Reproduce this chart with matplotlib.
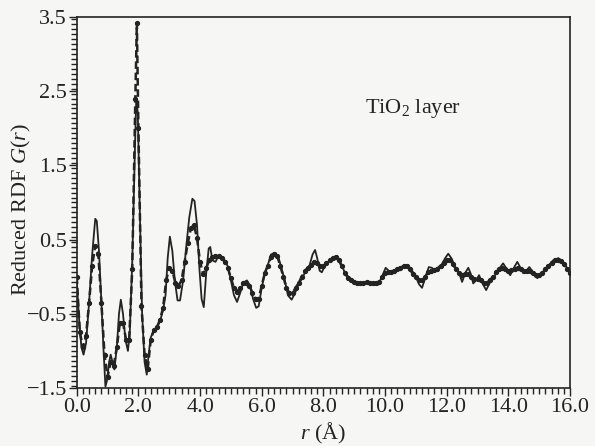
import matplotlib
matplotlib.use("Agg")
import matplotlib.pyplot as plt
from matplotlib.ticker import MultipleLocator, FuncFormatter

plt.rcParams["font.family"] = ["Liberation Serif", "DejaVu Serif"]
plt.rcParams["mathtext.fontset"] = "custom"
plt.rcParams["mathtext.rm"] = "Liberation Serif"
plt.rcParams["mathtext.it"] = "Liberation Serif:italic"

# calculated G(r) (thin solid line)
r_calc = [0.00, 0.08, 0.15, 0.22, 0.30, 0.40, 0.50, 0.60, 0.65, 0.72, 0.80, 0.87, 0.93, 0.98,
          1.05, 1.10, 1.16, 1.22, 1.30, 1.37, 1.43, 1.50, 1.58, 1.66, 1.72, 1.80, 1.88, 1.93,
          1.98, 2.05, 2.12, 2.20, 2.27, 2.33, 2.40, 2.50, 2.60, 2.70, 2.80, 2.88, 2.95, 3.02,
          3.10, 3.18, 3.27, 3.35, 3.45, 3.55, 3.65, 3.75, 3.82, 3.90, 3.98, 4.05, 4.12, 4.20,
          4.28, 4.33, 4.40, 4.50, 4.60, 4.70, 4.80, 4.90, 5.00, 5.10, 5.20, 5.30, 5.40, 5.52,
          5.62, 5.72, 5.82, 5.90, 6.00, 6.10, 6.20, 6.30, 6.45, 6.55, 6.65, 6.75, 6.85, 6.97,
          7.08, 7.20, 7.34, 7.45, 7.55, 7.65, 7.73, 7.80, 7.88, 7.95, 8.05, 8.15, 8.30, 8.44,
          8.55, 8.70, 8.86, 9.00, 9.19, 9.40, 9.60, 9.77, 9.90, 10.02, 10.12, 10.27, 10.45,
          10.60, 10.72, 10.85, 11.00, 11.10, 11.20, 11.30, 11.42, 11.52, 11.62, 11.70, 11.82,
          11.95, 12.05, 12.15, 12.28, 12.40, 12.50, 12.60, 12.70, 12.78, 12.86, 12.95, 13.05,
          13.15, 13.28, 13.40, 13.51, 13.65, 13.83, 13.95, 14.06, 14.18, 14.29, 14.38, 14.48,
          14.58, 14.68, 14.80, 14.94, 15.10, 15.30, 15.45, 15.62, 15.78, 15.90, 16.00]
g_calc = [-0.05, -0.60, -0.95, -1.05, -0.90, -0.35, 0.30, 0.78, 0.75, 0.35, -0.35, -1.00, -1.48, -1.40,
          -1.15, -1.05, -1.15, -1.25, -0.95, -0.50, -0.31, -0.50, -0.85, -1.00, -0.75, 0.20, 1.60, 2.40,
          2.20, 0.80, -0.50, -1.15, -1.32, -1.05, -0.82, -0.72, -0.68, -0.60, -0.45, -0.25, 0.25, 0.54,
          0.35, -0.05, -0.32, -0.32, -0.05, 0.40, 0.80, 1.05, 1.02, 0.70, 0.10, -0.30, -0.41, 0.05,
          0.38, 0.40, 0.22, 0.20, 0.28, 0.27, 0.22, 0.14, -0.05, -0.25, -0.34, -0.22, -0.08, -0.05,
          -0.12, -0.30, -0.42, -0.40, -0.15, 0.05, 0.16, 0.30, 0.32, 0.25, 0.10, -0.05, -0.25, -0.31,
          -0.22, -0.10, 0.00, 0.10, 0.15, 0.30, 0.36, 0.25, 0.08, 0.06, 0.15, 0.20, 0.26, 0.28,
          0.20, 0.05, -0.02, -0.07, -0.09, -0.07, -0.10, -0.11, 0.00, 0.12, 0.08, 0.06, 0.11,
          0.15, 0.16, 0.10, 0.00, -0.10, -0.15, -0.02, 0.13, 0.12, 0.08, 0.09, 0.15,
          0.25, 0.31, 0.25, 0.13, 0.05, -0.07, 0.05, 0.12, 0.04, -0.09, -0.05, 0.02,
          -0.08, -0.18, -0.08, -0.02, 0.08, 0.18, 0.10, 0.02, 0.12, 0.20, 0.13, 0.05,
          0.08, 0.13, 0.06, -0.02, 0.05, 0.15, 0.22, 0.25, 0.20, 0.12, 0.05]

# experimental G(r) (dashed line with dots)
r_exp = [0.0, 0.1, 0.2, 0.3, 0.4, 0.5, 0.6, 0.7, 0.8, 0.9, 1.0, 1.1, 1.2, 1.3, 1.4, 1.5, 1.6, 1.7,
         1.8, 1.9, 1.95, 2.0, 2.1, 2.2, 2.3, 2.4, 2.5, 2.6, 2.7, 2.8, 2.9, 3.0, 3.1, 3.2, 3.3, 3.4,
         3.5, 3.6, 3.7, 3.8, 3.9, 4.0, 4.1, 4.2, 4.3, 4.4, 4.5, 4.6, 4.7, 4.8, 4.9, 5.0, 5.1, 5.2,
         5.3, 5.4, 5.5, 5.6, 5.7, 5.8, 5.9, 6.0, 6.1, 6.2, 6.3, 6.4, 6.5, 6.6, 6.7, 6.8, 6.9, 7.0,
         7.1, 7.2, 7.3, 7.4, 7.5, 7.6, 7.7, 7.8, 7.9, 8.0, 8.1, 8.2, 8.3, 8.4, 8.5, 8.6, 8.7, 8.8,
         8.9, 9.0, 9.1, 9.2, 9.3, 9.4, 9.5, 9.6, 9.7, 9.8, 9.9, 10.0, 10.1, 10.2, 10.3, 10.4, 10.5,
         10.6, 10.7, 10.8, 10.9, 11.0, 11.1, 11.2, 11.3, 11.4, 11.5, 11.6, 11.7, 11.8, 11.9, 12.0,
         12.1, 12.2, 12.3, 12.4, 12.5, 12.6, 12.7, 12.8, 12.9, 13.0, 13.1, 13.2, 13.3, 13.4, 13.5,
         13.6, 13.7, 13.8, 13.9, 14.0, 14.1, 14.2, 14.3, 14.4, 14.5, 14.6, 14.7, 14.8, 14.9, 15.0,
         15.1, 15.2, 15.3, 15.4, 15.5, 15.6, 15.7, 15.8, 15.9, 16.0]
g_exp = [0.00, -0.75, -0.95, -0.80, -0.35, 0.15, 0.42, 0.30, -0.35, -1.05, -1.35, -1.15, -1.20, -0.95,
         -0.62, -0.62, -0.85, -0.85, 0.10, 2.40, 3.42, 2.00, -0.40, -1.05, -1.25, -0.85, -0.72, -0.68,
         -0.58, -0.42, -0.05, 0.12, 0.08, -0.08, -0.12, -0.05, 0.20, 0.45, 0.65, 0.70, 0.52, 0.20,
         0.03, 0.12, 0.22, 0.26, 0.28, 0.28, 0.25, 0.20, 0.12, -0.02, -0.15, -0.20, -0.15, -0.08,
         -0.08, -0.12, -0.22, -0.30, -0.30, -0.12, 0.05, 0.15, 0.26, 0.30, 0.28, 0.15, 0.00, -0.15,
         -0.22, -0.22, -0.15, -0.08, 0.00, 0.08, 0.12, 0.16, 0.20, 0.18, 0.14, 0.14, 0.18, 0.22,
         0.25, 0.26, 0.22, 0.14, 0.05, -0.02, -0.05, -0.07, -0.08, -0.09, -0.08, -0.07, -0.08,
         -0.09, -0.09, -0.07, -0.01, 0.05, 0.07, 0.07, 0.08, 0.10, 0.12, 0.14, 0.14, 0.10, 0.04,
         -0.01, -0.05, -0.05, 0.00, 0.06, 0.08, 0.09, 0.11, 0.15, 0.19, 0.22, 0.22, 0.17, 0.10,
         0.05, 0.02, 0.04, 0.04, 0.00, -0.03, -0.03, -0.05, -0.08, -0.08, -0.05, 0.00, 0.06, 0.10,
         0.12, 0.10, 0.08, 0.09, 0.11, 0.12, 0.10, 0.08, 0.08, 0.08, 0.05, 0.02, 0.02, 0.05, 0.10,
         0.15, 0.19, 0.22, 0.23, 0.21, 0.17, 0.11, 0.05]

y_ticks = [-1.5, -0.5, 0.5, 1.5, 2.5, 3.5]

ink = "#232323"
paper = "#f6f6f4"


def fmt(v, pos):
    return f"{v:.1f}".replace("-", "\u2212")


fig = plt.figure(figsize=(5.95, 4.46), dpi=100, facecolor=paper)
ax = fig.add_axes([0.129, 0.130, 0.829, 0.832], facecolor=paper)

ax.plot(r_calc, g_calc, color=ink, lw=1.3)
ax.plot(r_exp, g_exp, color=ink, lw=1.8, ls=(0, (3, 1.5)),
        marker="o", ms=2.8, mfc=ink, mec=ink)

ax.text(9.35, 2.27, "TiO$_2$ layer", fontsize=16, ha="left", va="center", color=ink)

ax.set_xlim(0, 16)
ax.set_ylim(-1.5, 3.5)
ax.xaxis.set_major_locator(MultipleLocator(2.0))
ax.xaxis.set_minor_locator(MultipleLocator(0.2))
ax.yaxis.set_minor_locator(MultipleLocator(1 / 15))
ax.set_yticks(y_ticks)
ax.xaxis.set_major_formatter(FuncFormatter(fmt))
ax.yaxis.set_major_formatter(FuncFormatter(fmt))

ax.tick_params(which="both", direction="out", colors=ink, labelsize=16, width=1.0)
ax.tick_params(which="major", length=6, pad=1)
ax.tick_params(which="minor", length=4)
for s in ax.spines.values():
    s.set_color(ink)
    s.set_linewidth(1.2)

ax.set_xlabel("$r$ (Å)", fontsize=16, color=ink, labelpad=3)
ax.set_ylabel("Reduced RDF $G$($r$)", fontsize=16, color=ink)
ax.yaxis.set_label_coords(-0.088, 0.48)

fig.savefig("out.png", dpi=100, facecolor=paper)
